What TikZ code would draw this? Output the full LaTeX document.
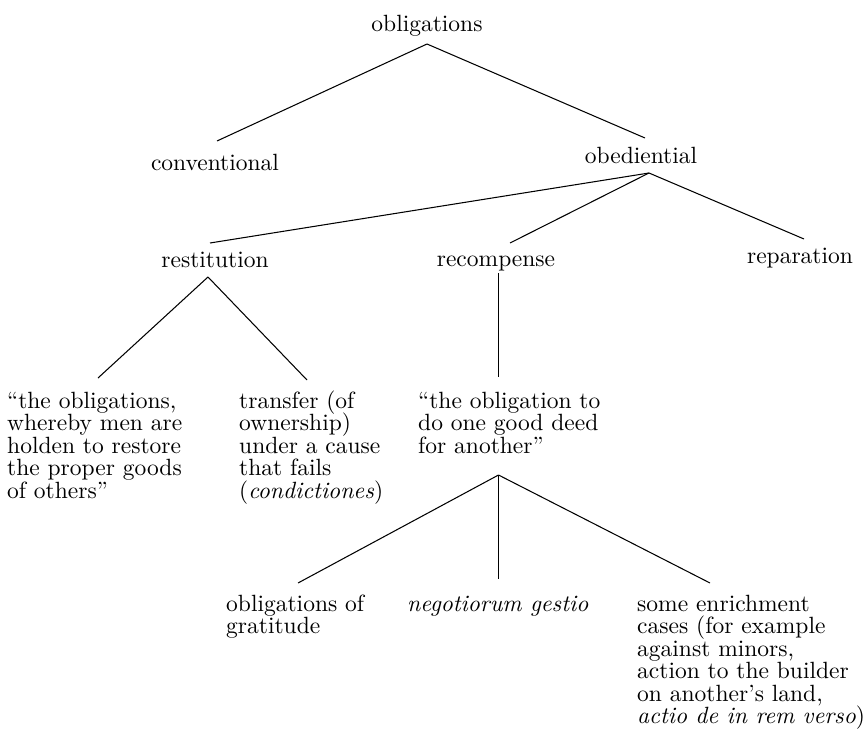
\documentclass[tikz,border=0pt]{standalone}
\usepackage{fontspec}
\setmainfont{lmroman10}[Extension=.otf, UprightFont=*-regular, ItalicFont=*-italic, BoldFont=*-bold]
\newcommand\mystrut{\rule{0pt}{18pt}}
\newcommand\txtfont{\fontsize{23.5}{22.5}\selectfont\lineskiplimit=-100pt\relax}
\tikzset{
  lbl/.style={inner sep=0pt, font=\txtfont, anchor=base},
  blk/.style={inner sep=0pt, font=\txtfont, align=left, anchor=north west},
  branch/.style={line width=1.05pt}
}
\begin{document}
\begin{tikzpicture}[x=1pt,y=-1pt]
\useasboundingbox (0,0) rectangle (867,746);
\node[lbl] (obl) at (427,32) {obligations};
\node[lbl] (conv) at (215,171) {conventional};
\node[lbl] (obed) at (641,164) {obediential};
\node[lbl] (rest) at (215,267) {restitution};
\node[lbl] (recp) at (496,266) {recompense};
\node[lbl] (repa) at (800,263) {reparation};
\node[blk] (p1) at (7,390) {\mystrut“the obligations,\\whereby men are\\holden to restore\\the proper goods\\of others”};
\node[blk] (p2) at (239,390) {\mystrut transfer (of\\ownership)\\under a cause\\that fails\\(\textit{condictiones})};
\node[blk] (p3) at (418,390) {\mystrut“the obligation to\\do one good deed\\for another”};
\node[blk] (g1) at (226,593) {\mystrut obligations of\\gratitude};
\node[blk] (g2) at (407,593) {\mystrut\textit{negotiorum gestio}};
\node[blk] (g3) at (637,593) {\mystrut some enrichment\\cases (for example\\against minors,\\action to the builder\\on another’s land,\\\textit{actio de in rem verso})};
\draw[branch] ([yshift=-12pt]obl.base) -- ([xshift=2pt,yshift=30pt]conv.base);
\draw[branch] ([yshift=-12pt]obl.base) -- ([xshift=4pt,yshift=26pt]obed.base);
\draw[branch] ([xshift=8pt,yshift=-9pt]obed.base) -- ([xshift=-5pt,yshift=24pt]rest.base);
\draw[branch] ([xshift=8pt,yshift=-9pt]obed.base) -- ([xshift=14pt,yshift=23pt]recp.base);
\draw[branch] ([xshift=8pt,yshift=-9pt]obed.base) -- ([xshift=4pt,yshift=24pt]repa.base);
\draw[branch] ([xshift=-7pt,yshift=-10pt]rest.base) -- ([xshift=91pt,yshift=12pt]p1.north west);
\draw[branch] ([xshift=-7pt,yshift=-10pt]rest.base) -- ([xshift=68pt,yshift=10pt]p2.north west);
\draw[line width=0.8pt] ([xshift=2.5pt,yshift=-7pt]recp.base) -- ([xshift=80.5pt,yshift=13pt]p3.north west);
\draw[branch] ([xshift=80.5pt,yshift=-85pt]p3.north west) -- ([xshift=72pt,yshift=10pt]g1.north west);
\draw[line width=0.8pt] ([xshift=80.5pt,yshift=-85pt]p3.north west) -- ([xshift=91.5pt,yshift=14pt]g2.north west);
\draw[branch] ([xshift=80.5pt,yshift=-85pt]p3.north west) -- ([xshift=73pt,yshift=10pt]g3.north west);
\end{tikzpicture}
\end{document}
